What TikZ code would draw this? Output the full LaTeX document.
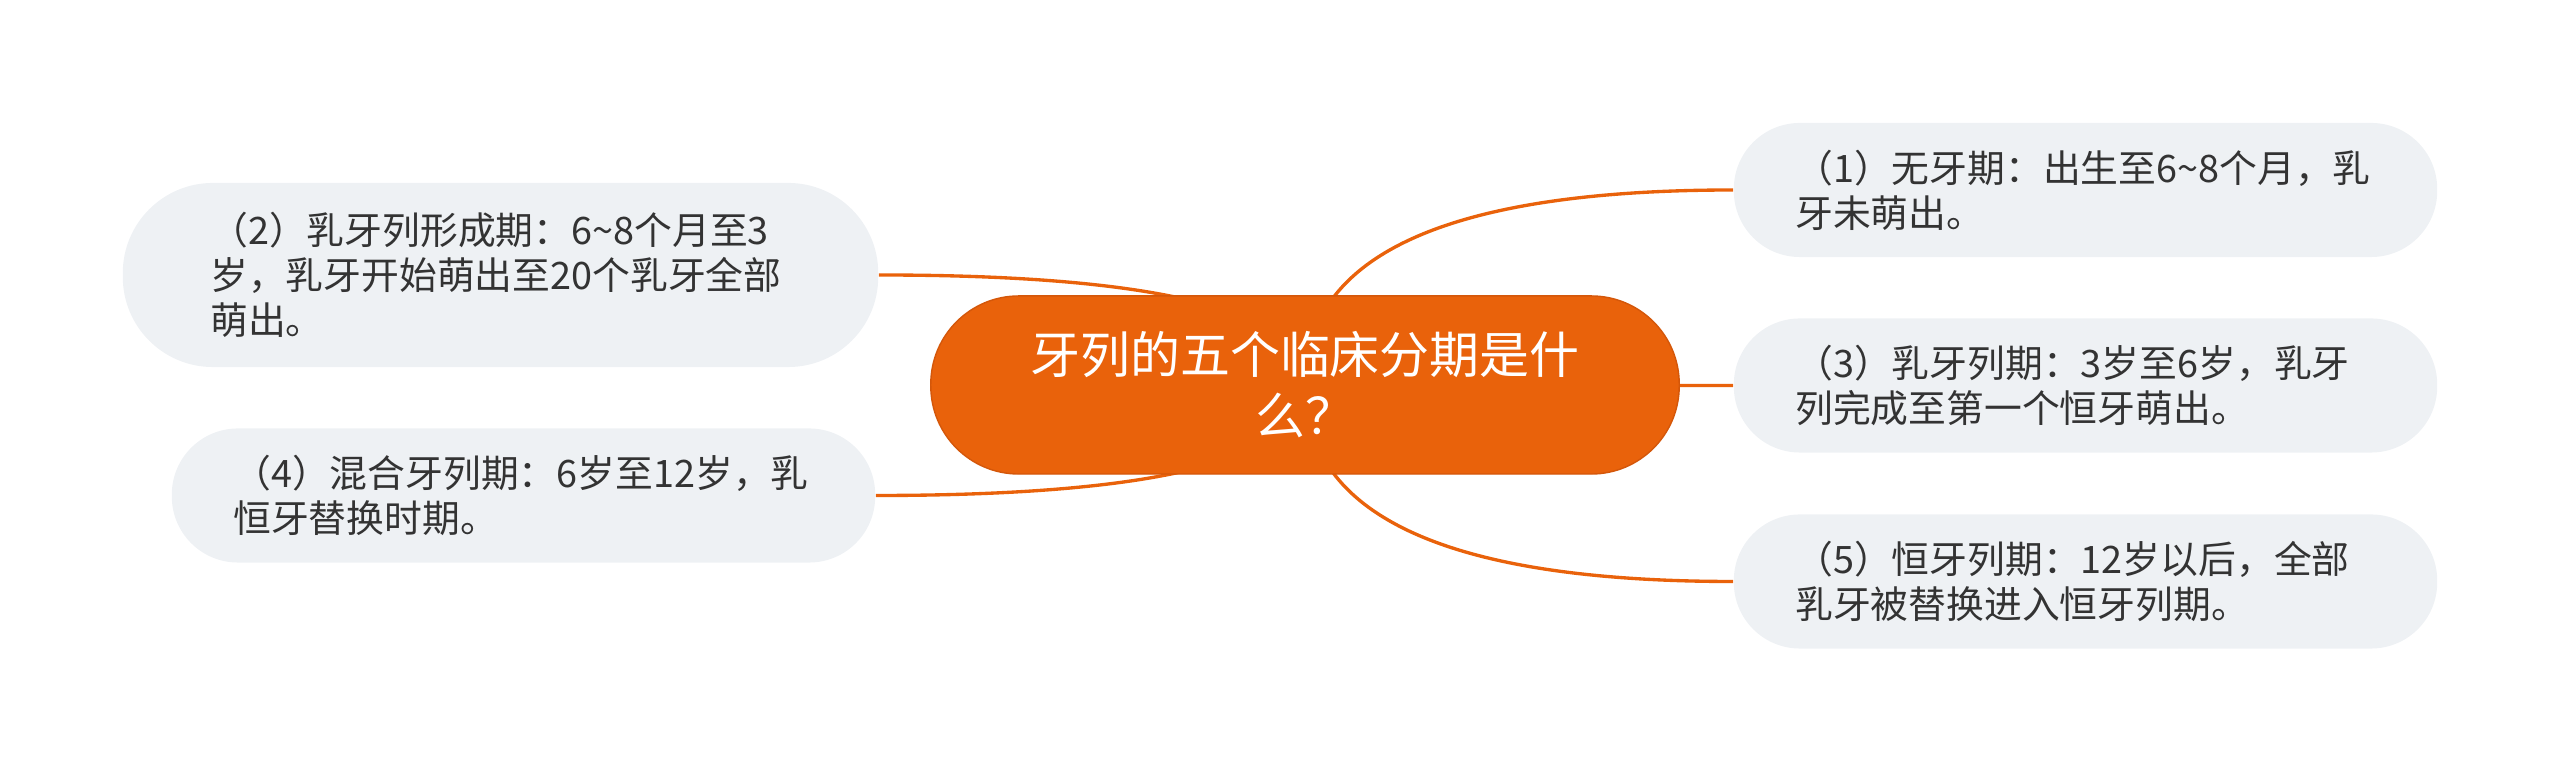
\documentclass[tikz,border=0pt]{standalone}
\usepackage{fontspec}
\newfontfamily\cjk{Noto Sans CJK SC}
\usetikzlibrary{calc, backgrounds}
\definecolor{topicorange}{HTML}{E9620B}
\definecolor{topicedge}{HTML}{D4570A}
\definecolor{leafgray}{HTML}{EEF1F4}
\definecolor{leaftext}{HTML}{333333}

\begin{document}
\begin{tikzpicture}[x=0.01cm, y=-0.01cm,
    topic/.style={fill=topicorange, draw=topicedge, line width=0.4pt, text=white,
      rounded corners=0.88cm, minimum width=7.48cm, minimum height=1.78cm,
      inner sep=0pt, align=center, font=\cjk\fontsize{14.2pt}{17.4pt}\selectfont},
    leaf/.style={fill=leafgray, text=leaftext, rounded corners=0.66cm,
      minimum width=7.03cm, minimum height=1.34cm, text width=5.8cm,
      inner sep=0pt, align=left, font=\cjk\fontsize{10.75pt}{12.8pt}\selectfont},
    branch/.style={draw=topicorange, line width=0.95pt}]
    \useasboundingbox (0,0) rectangle (2560,771);

    % Central topic
    \node[topic] (c) at (1305,385) {牙列的五个临床分期是什\\么？};

    % Right branches
    \node[leaf] (n1) at (2085.5,190) {（1）无牙期：出生至6\textasciitilde8个月，乳\\牙未萌出。};
    \node[leaf] (n3) at (2085.5,385.5) {（3）乳牙列期：3岁至6岁，乳牙\\列完成至第一个恒牙萌出。};
    \node[leaf] (n5) at (2085.5,581.5) {（5）恒牙列期：12岁以后，全部\\乳牙被替换进入恒牙列期。};

    % Left branches
    \node[leaf, minimum width=7.55cm, minimum height=1.84cm, rounded corners=0.9cm] (n2) at (500.5,275)
      {（2）乳牙列形成期：6\textasciitilde8个月至3\\岁，乳牙开始萌出至20个乳牙全部\\萌出。};
    \node[leaf] (n4) at (523.5,495.5) {（4）混合牙列期：6岁至12岁，乳\\恒牙替换时期。};

    % Connectors behind the nodes (quadratic bends)
    \begin{scope}[on background layer]
      \foreach \leafname/\side in {n1/west, n3/west, n5/west, n2/east, n4/east} {
        \coordinate (k) at (c.center |- \leafname.\side);
        \draw[branch] (c.center) .. controls ($(c.center)!0.667!(k)$)
          and ($(\leafname.\side)!0.667!(k)$) .. (\leafname.\side);
      }
    \end{scope}
  \end{tikzpicture}
\end{document}
